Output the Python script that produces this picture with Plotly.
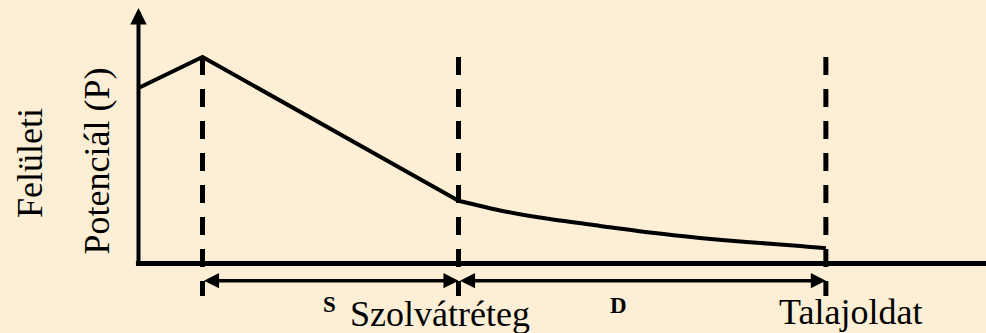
import plotly.graph_objects as go

# Surface potential profile across the double layer
# distance from the surface (arbitrary units) and potential P (arbitrary units)
inner_distance = [0.0, 1.0, 5.0]
inner_potential = [8.5, 10.0, 3.04]

diffuse_distance = [5.0, 5.65, 6.43, 7.21, 7.99, 8.77, 9.55, 10.34, 10.74]
diffuse_potential = [3.04, 2.57, 2.15, 1.82, 1.50, 1.24, 1.03, 0.85, 0.74]

# layer boundaries: surface plane, solvation shell edge, bulk solution
boundaries = [1.0, 5.0, 10.74]
boundary_top = 10.0
boundary_bottom = -1.57
span_level = -0.83
span_marks = ["S", "D"]

y_label_outer = "Felületi"
y_label_inner = "Potenciál (P)"
region_labels = ["Szolvátréteg", "Talajoldat"]

X_RANGE = [-2.164, 13.242]
Y_RANGE = [-3.366, 12.760]
Y_AXIS_TOP = 12.37

W, H = 986, 333
BG = "#FCEFD6"
INK = "black"
SERIF = "Liberation Serif"

fig = go.Figure()

fig.add_trace(go.Scatter(
    x=inner_distance, y=inner_potential, mode="lines",
    line=dict(color=INK, width=4), hoverinfo="skip", showlegend=False,
))
fig.add_trace(go.Scatter(
    x=diffuse_distance, y=diffuse_potential, mode="lines",
    line=dict(color=INK, width=4, shape="spline", smoothing=0.8),
    hoverinfo="skip", showlegend=False,
))

shapes = []
# horizontal (distance) axis
shapes.append(dict(type="line", xref="x", yref="y", x0=-0.04, x1=X_RANGE[1], y0=0, y1=0,
                   line=dict(color=INK, width=5)))
# dashed boundary planes
for b in boundaries:
    shapes.append(dict(type="line", xref="x", yref="y", x0=b, x1=b,
                       y0=boundary_top, y1=boundary_bottom,
                       line=dict(color=INK, width=5, dash="18px,14px")))

annotations = []
# vertical (potential) axis with arrow
annotations.append(dict(
    x=0, y=Y_AXIS_TOP, ax=0, ay=-0.08, xref="x", yref="y", axref="x", ayref="y",
    text="", showarrow=True, arrowhead=2, arrowsize=0.82, arrowwidth=4, arrowcolor=INK,
))
# double-headed span arrows between boundaries
for a, b in zip(boundaries[:-1], boundaries[1:]):
    annotations.append(dict(
        x=b, y=span_level, ax=a, ay=span_level, xref="x", yref="y", axref="x", ayref="y",
        text="", showarrow=True, arrowside="end+start",
        arrowhead=2, startarrowhead=2, arrowsize=0.86, startarrowsize=0.86,
        arrowwidth=3.5, arrowcolor=INK,
    ))


def px_label(text, px, py, size, angle=0, bold=False):
    return dict(
        x=px / W, y=1 - py / H, xref="paper", yref="paper",
        text=f"<b>{text}</b>" if bold else text, showarrow=False,
        textangle=angle, xanchor="center", yanchor="middle",
        font=dict(family=SERIF, size=size, color=INK),
    )


annotations.append(px_label(y_label_outer, 29.4, 162.5, 36, angle=-90))
annotations.append(px_label(y_label_inner, 97.4, 161, 36, angle=-90))
annotations.append(px_label(span_marks[0], 329, 304.5, 23, bold=True))
annotations.append(px_label(region_labels[0], 440, 314.4, 36))
annotations.append(px_label(span_marks[1], 618.5, 305.5, 23, bold=True))
annotations.append(px_label(region_labels[1], 850, 312.4, 36))

fig.update_layout(
    width=W, height=H,
    margin=dict(l=0, r=0, t=0, b=0, pad=0),
    paper_bgcolor=BG, plot_bgcolor=BG,
    font=dict(family=SERIF),
    xaxis=dict(range=X_RANGE, visible=False, fixedrange=True),
    yaxis=dict(range=Y_RANGE, visible=False, fixedrange=True),
    shapes=shapes, annotations=annotations,
    showlegend=False,
)

fig.write_html("out.html", config={"displayModeBar": False})
